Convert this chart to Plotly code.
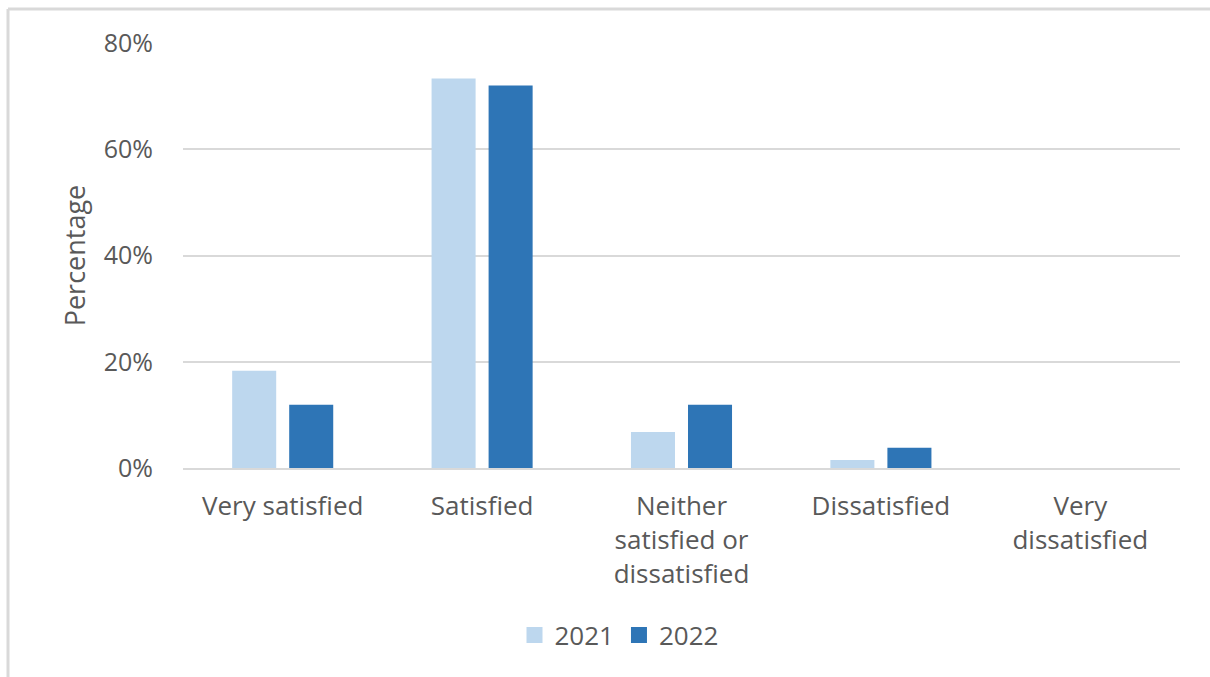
import plotly.graph_objects as go

categories = ["Very satisfied", "Satisfied", "Neither<br>satisfied or<br>dissatisfied", "Dissatisfied", "Very<br>dissatisfied"]
values_2021 = [0.183, 0.733, 0.068, 0.015, 0.0]
values_2022 = [0.119, 0.72, 0.119, 0.038, 0.0]
tick_vals = [0, 0.2, 0.4, 0.6, 0.8]
tick_text = ["0%", "20%", "40%", "60%", "80%"]
series_names = ["2021", "2022"]
colors = ["#bdd7ee", "#2e75b6"]

W, H = 1210, 677
L, R, T, B = 183, 30, 43, 209
pw, ph = W - L - R, H - T - B

def px_x(x):
    return (x - L) / pw

def px_y(y):
    return (H - B - y) / ph

font_family = "Open Sans, Liberation Sans, sans-serif"
grey = "#595959"

fig = go.Figure()
for name, vals, col in zip(series_names, [values_2021, values_2022], colors):
    fig.add_trace(go.Bar(name=name, x=categories, y=vals, marker=dict(color=col, line=dict(width=0)),
                         showlegend=False))
for name, col in zip(series_names, colors):
    fig.add_trace(go.Scatter(name=name, x=[None], y=[None], mode="markers",
                             marker=dict(symbol="square", size=17, color=col), showlegend=True))

fig.update_layout(
    width=W, height=H,
    margin=dict(l=L, r=R, t=T, b=B, autoexpand=False),
    paper_bgcolor="white", plot_bgcolor="white",
    barmode="group", bargap=0.428, bargroupgap=0.228,
    font=dict(family=font_family, size=25, color=grey),
    legend=dict(orientation="h", x=px_x(619), xanchor="center", y=px_y(635), yanchor="middle",
                font=dict(size=26, color=grey), traceorder="normal"),
    showlegend=True,
    yaxis=dict(range=[0, 0.8], tickvals=tick_vals, ticktext=tick_text,
               showgrid=True, gridcolor="#d9d9d9", gridwidth=1.5,
               zeroline=False, showline=False, ticks="", ticklabelstandoff=29,
               tickfont=dict(size=25, color=grey),
               title=dict(text="Percentage", font=dict(size=27, color=grey), standoff=10)),
    xaxis=dict(showgrid=False, zeroline=False, showline=True, linecolor="#d9d9d9", linewidth=1.5,
               ticks="", tickfont=dict(size=26, color=grey), ticklabelstandoff=14),
    shapes=[
        dict(type="line", xref="paper", yref="paper", x0=px_x(8), x1=px_x(8), y0=px_y(677), y1=px_y(9),
             line=dict(color="#d9d9d9", width=3)),
        dict(type="line", xref="paper", yref="paper", x0=px_x(8), x1=px_x(1212), y0=px_y(9), y1=px_y(9),
             line=dict(color="#d9d9d9", width=3)),
    ],
)

fig.write_html("out.html")
